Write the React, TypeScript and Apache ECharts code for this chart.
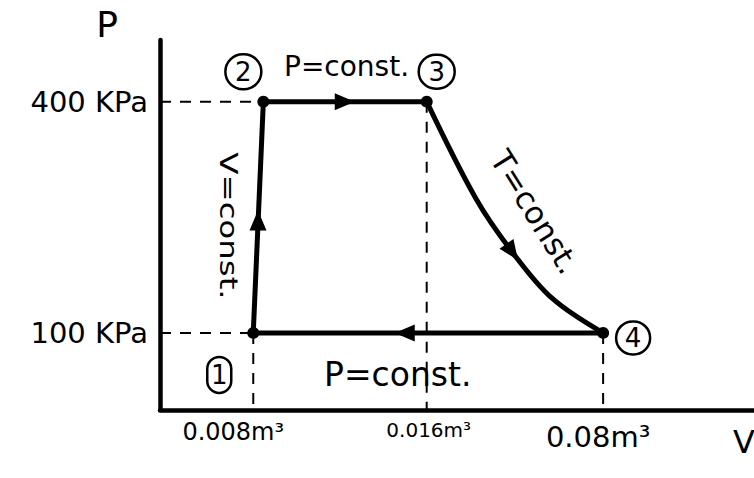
import React, { useEffect, useRef } from "react";
import * as echarts from "echarts";

// Schematic volume positions (axis units 0..100) and pressures (kPa)
const stateNames = ["1", "2", "3", "4"];
const stateV = [15.7, 17.4, 44.9, 74.6];
const stateP = [100, 400, 400, 100];

// isothermal expansion 3 -> 4
const isoV = [44.9, 53.2, 59.3, 66.0, 74.6];
const isoP = [400, 274, 205, 145, 100];

// arrow positions on each process
const arrowV = [16.5, 31.1, 59.3, 41.2];
const arrowP = [246, 400, 205, 100];
const arrowRot = [0, -90, -145, 90];

const volumeLabels = ["0.008m³", "0.016m³", "0.08m³"];
const volumeV = [15.7, 44.9, 74.6];
const pressureTicks: Record<number, string> = { 100: "100 KPa", 400: "400 KPa" };

const FONT = "DejaVu Sans";

export default function App() {
  const ref = useRef<HTMLDivElement>(null);
  useEffect(() => {
    if (!ref.current) return;
    const chart = echarts.init(ref.current, null, { renderer: "svg" });
    const black = "#000";
    const dashed = (data: number[][]) => ({
      type: "line",
      data,
      symbol: "none",
      silent: true,
      lineStyle: { color: black, width: 2, type: [11, 9] },
    });
    const solid = (data: number[][], smooth: boolean | number = false) => ({
      type: "line",
      data,
      symbol: "none",
      smooth,
      silent: true,
      lineStyle: { color: black, width: 5 },
    });
    const pt = (i: number) => [stateV[i], stateP[i]];
    const circleOffsets = [
      [-34, 42],
      [-20, -30],
      [10, -30],
      [30, 5],
    ];
    const circleW = [24, 36, 36, 34];
    const circleH = [36, 35, 34, 33];
    const textStyle = (text: string, fontSize: number, align = "left") => ({
      text,
      fill: black,
      fontFamily: FONT,
      fontSize,
      align,
      verticalAlign: "middle",
      textAlign: align,
      textVerticalAlign: "middle",
    });
    chart.setOption({
      animation: false,
      grid: { left: 160, right: 0, top: 40, bottom: 68 },
      xAxis: {
        type: "value",
        min: 0,
        max: 100,
        axisLine: { show: true, lineStyle: { color: black, width: 4.5 } },
        axisTick: { show: false },
        axisLabel: { show: false },
        splitLine: { show: false },
      },
      yAxis: {
        type: "value",
        min: 0,
        max: 480,
        interval: 100,
        axisLine: { show: true, lineStyle: { color: black, width: 4.5 } },
        axisTick: { show: false },
        splitLine: { show: false },
        axisLabel: {
          margin: 12,
          color: black,
          fontFamily: FONT,
          fontSize: 29,
          formatter: (v: number) => pressureTicks[v] || "",
        },
      },
      series: [
        dashed([[0, stateP[1]], pt(1)]),
        dashed([[0, stateP[0]], pt(0)]),
        dashed([pt(0), [stateV[0], 0]]),
        dashed([pt(2), [stateV[2], 0]]),
        dashed([pt(3), [stateV[3], 0]]),
        solid([pt(0), pt(1)]),
        solid([pt(1), pt(2)]),
        solid(isoV.map((v, i) => [v, isoP[i]]), 0.35),
        solid([pt(3), pt(0)]),
        {
          type: "scatter",
          silent: true,
          symbol: "triangle",
          symbolSize: [17, 20],
          itemStyle: { color: black, opacity: 1 },
          data: arrowV.map((v, i) => ({ value: [v, arrowP[i]], symbolRotate: arrowRot[i] })),
        },
        {
          type: "scatter",
          silent: true,
          symbolSize: 12,
          itemStyle: { color: black, opacity: 1 },
          data: stateNames.map((n, i) => ({
            value: pt(i),
            label: {
              show: true,
              position: "inside",
              formatter: "{c|" + n + "}",
              offset: circleOffsets[i],
              rich: {
                c: {
                  color: black,
                  fontFamily: FONT,
                  fontSize: 26,
                  width: circleW[i],
                  height: circleH[i],
                  lineHeight: circleH[i],
                  align: "center",
                  verticalAlign: "middle",
                  borderColor: black,
                  borderWidth: 2.5,
                  borderRadius: circleW[i] / 2,
                },
              },
            },
          })),
        },
        {
          type: "scatter",
          silent: true,
          symbolSize: 0,
          itemStyle: { opacity: 1 },
          data: volumeV.map((v, i) => ({
            value: [v, 0],
            label: {
              show: true,
              position: "bottom",
              distance: i === 2 ? 12 : 10,
              offset: [i === 0 ? -20 : i === 1 ? 2 : -5, 0],
              formatter: volumeLabels[i],
              color: black,
              fontFamily: FONT,
              fontSize: i === 1 ? 20 : i === 0 ? 24 : 29,
            },
          })),
        },
      ],
      graphic: [
        { type: "text", x: 107, y: 24, style: textStyle("P", 36, "center") },
        { type: "text", x: 733, y: 442, style: textStyle("V", 32) },
        { type: "text", x: 284, y: 66, style: textStyle("P=const.", 28) },
        { type: "text", x: 324, y: 374, style: textStyle("P=const.", 33) },
        {
          type: "text",
          x: 228,
          y: 226,
          rotation: -Math.PI / 2,
          scaleX: 1.35,
          style: textStyle("V=const.", 24, "center"),
        },
        {
          type: "text",
          x: 535,
          y: 212,
          rotation: (-58 * Math.PI) / 180,
          style: textStyle("T=const.", 31, "center"),
        },
      ],
    });
    return () => chart.dispose();
  }, []);
  return <div ref={ref} style={{ width: 754, height: 478, position: "absolute", left: 0, top: 0, background: "#fff" }} />;
}
